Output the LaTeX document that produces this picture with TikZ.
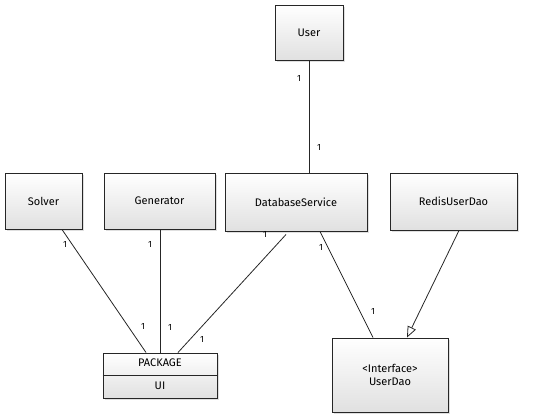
\documentclass[tikz,border=0pt]{standalone}
\usepackage{fontspec}
\setmainfont{Fira Sans}
\usetikzlibrary{shadows,shapes.multipart,arrows.meta}
\begin{document}
\begin{tikzpicture}[x=1pt,y=-1pt,
  cls/.style={draw=black!85,line width=1pt,top color=white,bottom color=black!12,
    drop shadow={shadow xshift=2pt,shadow yshift=-2pt,opacity=0.25},
    inner sep=0pt,font=\fontsize{11}{13}\selectfont,align=center},
  lnk/.style={draw=black!85,line width=0.8pt},
  mult/.style={font=\fontsize{9}{10}\selectfont,inner sep=0pt}]
\useasboundingbox (0,0) rectangle (544,418);
\node[cls,minimum width=68pt,minimum height=55pt] (user) at (309,32.5) {User};
\node[cls,minimum width=77pt,minimum height=56pt] (solver) at (43.5,201) {Solver};
\node[cls,minimum width=111pt,minimum height=56pt] (gen) at (159.5,201) {Generator};
\node[cls,minimum width=142pt,minimum height=58pt] (db) at (296,202) {DatabaseService};
\node[cls,minimum width=127pt,minimum height=57pt] (redis) at (453.5,201.5) {RedisUserDao};
\node[cls,minimum width=114pt,minimum height=45pt] (pkg) at (160,375.5) {};
\draw[line width=1pt,draw=black!85] (pkg.west |- 0,375) -- (pkg.east |- 0,375);
\node[font=\fontsize{11}{13}\selectfont,inner sep=0pt] (pkgt) at (160,363) {PACKAGE};
\node[font=\fontsize{11}{13}\selectfont,inner sep=0pt] (pkgu) at (160,386) {UI};
\node[cls,minimum width=116pt,minimum height=74pt] (dao) at (390,375) {<Interface>\\UserDao};
\draw[lnk] ([xshift=0pt]user.south) -- ([xshift=13pt]db.north);
\draw[lnk] ([xshift=18.5pt]solver.south) -- ([xshift=-14pt]pkg.north);
\draw[lnk] ([xshift=0.5pt]gen.south) -- ([xshift=0pt]pkg.north);
\draw[lnk] ([xshift=-10pt,yshift=-3pt]db.south) -- ([xshift=18pt]pkg.north);
\draw[lnk] ([xshift=24pt]db.south) -- ([xshift=-17pt]dao.north);
\draw[lnk,-{Triangle[open,length=11pt,width=9pt]}] ([xshift=5.5pt]redis.south) -- ([xshift=17pt]dao.north);
\node[mult] (m1) at (299,78) {1};
\node[mult] (m2) at (319,147) {1};
\node[mult] (m3) at (65,244) {1};
\node[mult] (m4) at (143,326) {1};
\node[mult] (m5) at (150,244) {1};
\node[mult] (m6) at (170,327) {1};
\node[mult] (m7) at (265,234) {1};
\node[mult] (m8) at (202,339) {1};
\node[mult] (m9) at (321,247) {1};
\node[mult] (m10) at (373,311) {1};
\end{tikzpicture}
\end{document}
